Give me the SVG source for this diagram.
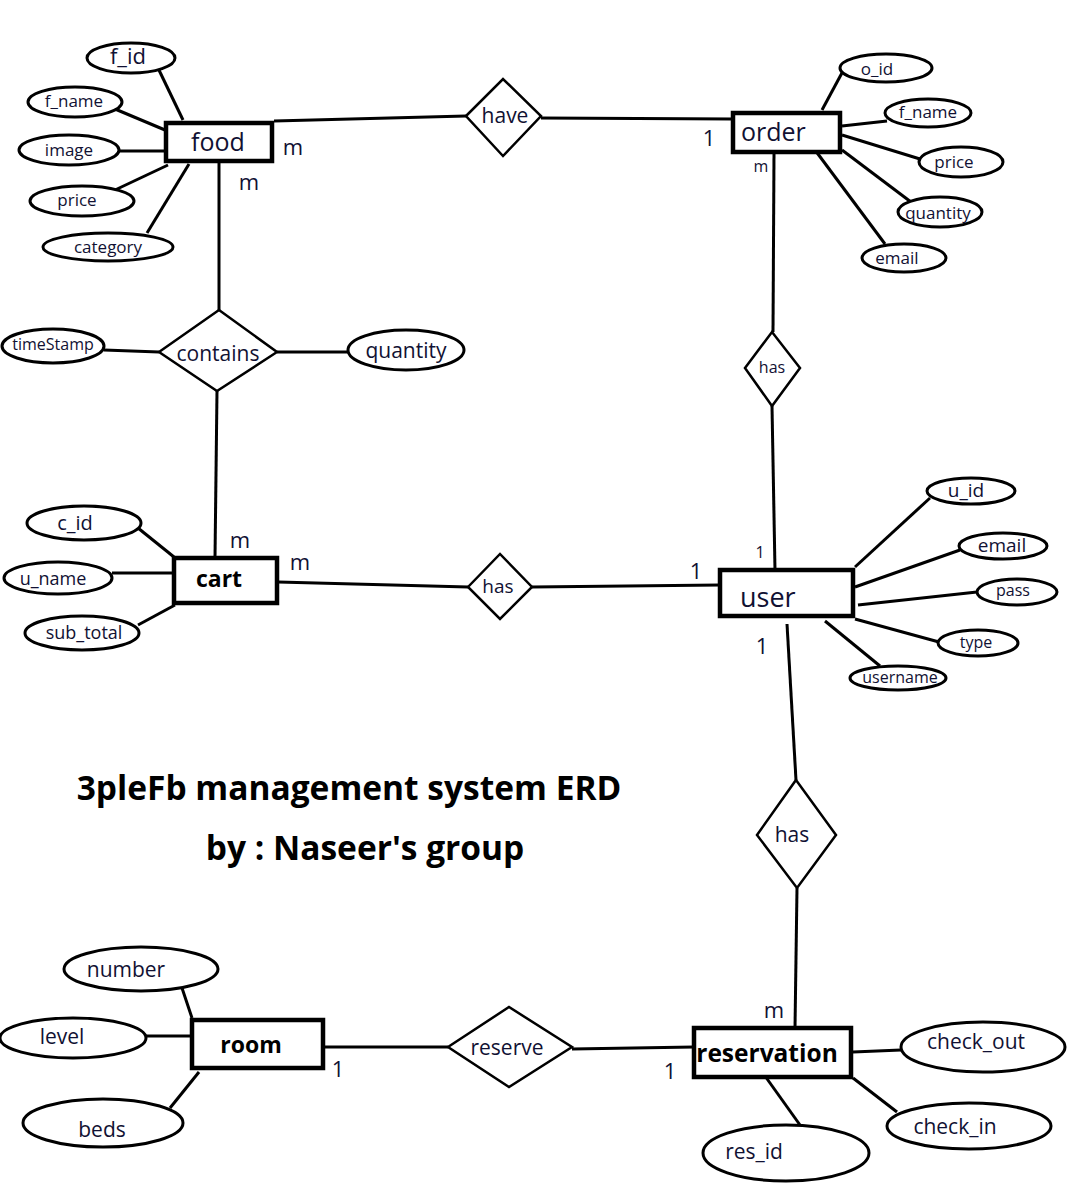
<svg xmlns="http://www.w3.org/2000/svg" width="1080" height="1200" viewBox="0 0 1080 1200">
<style>
.bg{fill:#ffffff}
.ent{fill:#ffffff;stroke:#000;stroke-width:4.5}
.att{fill:#ffffff;stroke:#000;stroke-width:3}
.rel{fill:#ffffff;stroke:#000;stroke-width:2.5}
.ln{stroke:#000;stroke-width:3;fill:none}
text{font-family:"Open Sans","Noto Sans","DejaVu Sans",sans-serif;fill:#111133}
.t{text-anchor:middle;dominant-baseline:central}
.b{font-weight:bold;fill:#000}
</style>
<rect class="bg" x="0" y="0" width="1080" height="1200"/>
<g id="connectors">
<line class="ln" x1="158" y1="68" x2="183" y2="120"/>
<line class="ln" x1="115" y1="109" x2="165" y2="130"/>
<line class="ln" x1="118" y1="151" x2="166" y2="151"/>
<line class="ln" x1="115" y1="190" x2="168" y2="165"/>
<line class="ln" x1="147" y1="233" x2="189" y2="164"/>
<line class="ln" x1="274" y1="121" x2="466" y2="116"/>
<line class="ln" x1="541" y1="118" x2="733" y2="119"/>
<line class="ln" x1="219" y1="163" x2="219" y2="310"/>
<line class="ln" x1="822" y1="110" x2="843" y2="71"/>
<line class="ln" x1="842" y1="126" x2="887" y2="121"/>
<line class="ln" x1="842" y1="135" x2="920" y2="159"/>
<line class="ln" x1="842" y1="150" x2="911" y2="202"/>
<line class="ln" x1="815" y1="150" x2="885" y2="244"/>
<line class="ln" x1="774" y1="153" x2="773" y2="332"/>
<line class="ln" x1="772" y1="406" x2="775" y2="570"/>
<line class="ln" x1="104" y1="350" x2="159" y2="352"/>
<line class="ln" x1="277" y1="352" x2="348" y2="352"/>
<line class="ln" x1="217" y1="391" x2="215" y2="558"/>
<line class="ln" x1="138" y1="528" x2="174" y2="557"/>
<line class="ln" x1="112" y1="573" x2="174" y2="573"/>
<line class="ln" x1="138" y1="625" x2="175" y2="605"/>
<line class="ln" x1="278" y1="582" x2="468" y2="587"/>
<line class="ln" x1="532" y1="587" x2="720" y2="585"/>
<line class="ln" x1="855" y1="567" x2="930" y2="498"/>
<line class="ln" x1="855" y1="587" x2="960" y2="550"/>
<line class="ln" x1="858" y1="605" x2="977" y2="592"/>
<line class="ln" x1="855" y1="619" x2="939" y2="642"/>
<line class="ln" x1="825" y1="621" x2="880" y2="666"/>
<line class="ln" x1="787" y1="624" x2="796" y2="780"/>
<line class="ln" x1="797" y1="888" x2="795" y2="1028"/>
<line class="ln" x1="853" y1="1052" x2="901" y2="1050"/>
<line class="ln" x1="853" y1="1078" x2="897" y2="1112"/>
<line class="ln" x1="765" y1="1076" x2="800" y2="1125"/>
<line class="ln" x1="572" y1="1049" x2="694" y2="1047"/>
<line class="ln" x1="325" y1="1047" x2="448" y2="1047"/>
<line class="ln" x1="182" y1="988" x2="192" y2="1018"/>
<line class="ln" x1="146" y1="1036" x2="193" y2="1036"/>
<line class="ln" x1="170" y1="1108" x2="199" y2="1072"/>
</g>
<g id="cardinality">
<text class="t" x="293" y="146" font-size="22">m</text>
<text class="t" x="249" y="181" font-size="22">m</text>
<text class="t" x="709" y="137" font-size="22">1</text>
<text class="t" x="761" y="166" font-size="16">m</text>
<text class="t" x="760" y="552" font-size="16">1</text>
<text class="t" x="240" y="539" font-size="22">m</text>
<text class="t" x="300" y="561" font-size="22">m</text>
<text class="t" x="696" y="570" font-size="22">1</text>
<text class="t" x="762" y="645" font-size="22">1</text>
<text class="t" x="774" y="1009" font-size="22">m</text>
<text class="t" x="670" y="1070" font-size="22">1</text>
<text class="t" x="338" y="1068" font-size="22">1</text>
</g>
<g id="food">
<rect class="ent" x="166" y="123" width="106" height="38"/>
<text class="t" x="218" y="141" font-size="25">food</text>
</g>
<g id="food_f_id"><ellipse class="att" cx="131" cy="58" rx="44" ry="15"/><text class="t" x="128" y="55" font-size="22">f_id</text></g>
<g id="food_f_name"><ellipse class="att" cx="75" cy="102" rx="47" ry="15"/><text class="t" x="74" y="100" font-size="17">f_name</text></g>
<g id="food_image"><ellipse class="att" cx="69" cy="150" rx="50" ry="15"/><text class="t" x="69" y="149" font-size="17">image</text></g>
<g id="food_price"><ellipse class="att" cx="82" cy="201" rx="52" ry="15"/><text class="t" x="77" y="199" font-size="17">price</text></g>
<g id="food_category"><ellipse class="att" cx="108" cy="247" rx="65" ry="14"/><text class="t" x="108" y="246" font-size="17">category</text></g>
<g id="have">
<polygon class="rel" points="466,116 503,79 541,116 503,156"/>
<text class="t" x="505" y="115" font-size="21">have</text>
</g>
<g id="order">
<rect class="ent" x="733" y="113" width="107" height="39"/>
<text x="741" y="141" font-size="25">order</text>
</g>
<g id="order_o_id"><ellipse class="att" cx="886" cy="68" rx="46" ry="14"/><text class="t" x="877" y="68" font-size="17">o_id</text></g>
<g id="order_f_name"><ellipse class="att" cx="928" cy="113" rx="43" ry="14"/><text class="t" x="928" y="111" font-size="17">f_name</text></g>
<g id="order_price"><ellipse class="att" cx="961" cy="162" rx="42" ry="15"/><text class="t" x="954" y="161" font-size="17">price</text></g>
<g id="order_quantity"><ellipse class="att" cx="940" cy="212" rx="42" ry="15"/><text class="t" x="938" y="212" font-size="17">quantity</text></g>
<g id="order_email"><ellipse class="att" cx="904" cy="258" rx="42" ry="14"/><text class="t" x="897" y="257" font-size="17">email</text></g>
<g id="has_order_user">
<polygon class="rel" points="772,332 800,368 772,406 745,368"/>
<text class="t" x="772" y="367" font-size="16">has</text>
</g>
<g id="contains">
<polygon class="rel" points="159,352 219,310 277,352 217,391"/>
<text class="t" x="218" y="353" font-size="21">contains</text>
</g>
<g id="contains_timeStamp"><ellipse class="att" cx="53" cy="346" rx="51" ry="17"/><text class="t" x="53" y="344" font-size="16">timeStamp</text></g>
<g id="contains_quantity"><ellipse class="att" cx="406" cy="350" rx="58" ry="20"/><text class="t" x="406" y="350" font-size="21">quantity</text></g>
<g id="cart">
<rect class="ent" x="174" y="558" width="103" height="45"/>
<text class="t b" x="219" y="578" font-size="23">cart</text>
</g>
<g id="cart_c_id"><ellipse class="att" cx="84" cy="523" rx="57" ry="17"/><text class="t" x="75" y="522" font-size="20">c_id</text></g>
<g id="cart_u_name"><ellipse class="att" cx="58" cy="578" rx="54" ry="16"/><text class="t" x="53" y="578" font-size="18">u_name</text></g>
<g id="cart_sub_total"><ellipse class="att" cx="82" cy="633" rx="57" ry="17"/><text class="t" x="84" y="632" font-size="18">sub_total</text></g>
<g id="has_cart_user">
<polygon class="rel" points="468,587 500,554 532,587 500,619"/>
<text class="t" x="498" y="586" font-size="19">has</text>
</g>
<g id="user">
<rect class="ent" x="720" y="570" width="133" height="46"/>
<text x="740" y="607" font-size="27">user</text>
</g>
<g id="user_u_id"><ellipse class="att" cx="971" cy="491" rx="44" ry="13"/><text class="t" x="966" y="490" font-size="19">u_id</text></g>
<g id="user_email"><ellipse class="att" cx="1003" cy="546" rx="44" ry="13"/><text class="t" x="1002" y="545" font-size="19">email</text></g>
<g id="user_pass"><ellipse class="att" cx="1017" cy="592" rx="40" ry="13"/><text class="t" x="1013" y="590" font-size="16">pass</text></g>
<g id="user_type"><ellipse class="att" cx="978" cy="643" rx="40" ry="13"/><text class="t" x="976" y="642" font-size="16">type</text></g>
<g id="user_username"><ellipse class="att" cx="898" cy="678" rx="48" ry="12"/><text class="t" x="900" y="677" font-size="16">username</text></g>
<g id="has_user_reservation">
<polygon class="rel" points="796,780 836,835 797,888 757,835"/>
<text class="t" x="792" y="834" font-size="21">has</text>
</g>
<g id="reservation">
<rect class="ent" x="694" y="1028" width="157" height="49"/>
<text class="t b" x="767" y="1052" font-size="24.5">reservation</text>
</g>
<g id="reservation_check_out"><ellipse class="att" cx="983" cy="1047" rx="82" ry="25"/><text class="t" x="976" y="1041" font-size="21">check_out</text></g>
<g id="reservation_check_in"><ellipse class="att" cx="969" cy="1126" rx="82" ry="23"/><text class="t" x="955" y="1126" font-size="21">check_in</text></g>
<g id="reservation_res_id"><ellipse class="att" cx="786" cy="1153" rx="83" ry="28"/><text class="t" x="754" y="1151" font-size="21">res_id</text></g>
<g id="reserve">
<polygon class="rel" points="448,1047 509,1007 572,1047 509,1087"/>
<text class="t" x="507" y="1047" font-size="21">reserve</text>
</g>
<g id="room">
<rect class="ent" x="192" y="1020" width="131" height="48"/>
<text class="t b" x="251" y="1044" font-size="23">room</text>
</g>
<g id="room_number"><ellipse class="att" cx="141" cy="969" rx="77" ry="22"/><text class="t" x="126" y="969" font-size="21">number</text></g>
<g id="room_level"><ellipse class="att" cx="73" cy="1038" rx="73" ry="20"/><text class="t" x="62" y="1036" font-size="21">level</text></g>
<g id="room_beds"><ellipse class="att" cx="103" cy="1123" rx="80" ry="24"/><text class="t" x="102" y="1129" font-size="21">beds</text></g>
<g id="title">
<text class="t b" x="349" y="787" font-size="33.5">3pleFb management system ERD</text>
<text class="t b" x="365" y="847" font-size="33.5">by : Naseer's group</text>
</g>
</svg>
